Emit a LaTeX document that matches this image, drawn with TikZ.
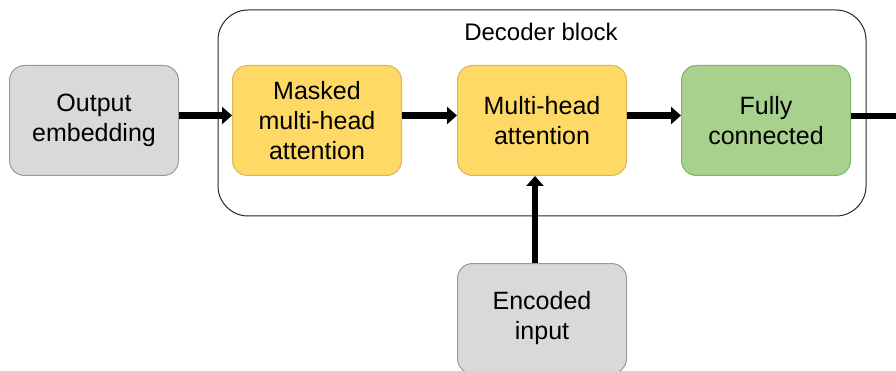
\documentclass[tikz,border=0pt]{standalone}
\usepackage{fontspec}
\setmainfont{Liberation Sans}
\usetikzlibrary{arrows.meta}
\definecolor{grayfill}{HTML}{D9D9D9}
\definecolor{grayline}{HTML}{999999}
\definecolor{yellowfill}{HTML}{FFD966}
\definecolor{yellowline}{HTML}{D6B656}
\definecolor{greenfill}{HTML}{A9D18E}
\definecolor{greenline}{HTML}{82B366}
\begin{document}
\begin{tikzpicture}[x=1pt,y=-1pt,
  blk/.style={rounded corners=15pt, line width=1pt, minimum width=169pt, minimum height=110pt,
    align=center, font=\fontsize{25}{30}\selectfont, inner sep=0pt, text=black},
  graybox/.style={blk, draw=grayline, fill=grayfill},
  yellowbox/.style={blk, draw=yellowline, fill=yellowfill},
  greenbox/.style={blk, draw=greenline, fill=greenfill},
  conn/.style={line width=6.5pt, -{Triangle[length=10pt,width=17pt]}},
  plainconn/.style={line width=6.5pt}
]
\useasboundingbox (0,0) rectangle (896,371);
\node[draw=black!85, line width=1pt, rounded corners=30pt, minimum width=648pt, minimum height=206pt, inner sep=0pt] (dec) at (542,113) {};
\node[font=\fontsize{24}{29}\selectfont, anchor=base] (title) at (541,41) {Decoder block};
\node[graybox] (emb) at (94,120.5) {Output\\embedding};
\node[yellowbox] (mask) at (317,120.5) {Masked\\multi-head\\attention};
\node[yellowbox] (mha) at (542,120.5) {Multi-head\\attention};
\node[greenbox] (fc) at (766,120.5) {Fully\\connected};
\node[graybox, anchor=north] (enc) at (542,263) {Encoded\\input};
\coordinate (out) at (900,116);
\draw[conn] ([yshift=5pt]emb.east) -- ([yshift=5pt]mask.west);
\draw[conn] ([yshift=5pt]mask.east) -- ([yshift=5pt]mha.west);
\draw[conn] ([yshift=5pt]mha.east) -- ([yshift=5pt]fc.west);
\draw[plainconn] ([yshift=4.5pt]fc.east) -- (out);
\draw[conn] ([xshift=-7pt]enc.north) -- ([xshift=-7pt]mha.south);
\end{tikzpicture}
\end{document}
